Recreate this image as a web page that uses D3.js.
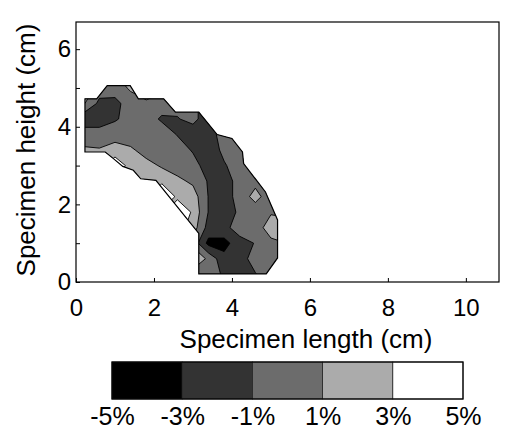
<!DOCTYPE html>
<html>
<head>
<meta charset="utf-8">
<script src="https://cdn.jsdelivr.net/npm/d3@7"></script>
<style>
body { margin: 0; background: #fff; }
svg { display: block; font-family: "Liberation Sans", Arial, sans-serif; }
</style>
</head>
<body>
<svg width="515" height="439"></svg>
<script>
var width = 515, height = 439;
var margin = {top: 22, right: 16, bottom: 157, left: 76};

// measurement grid (cm); rows go from the top of the specimen down
var gridX = [0.2, 0.6, 1.0, 1.4, 1.8, 2.2, 2.6, 3.0, 3.4, 3.8, 4.2, 4.6, 5.0, 5.4];
var gridY = [5.4, 5.0, 4.6, 4.2, 3.8, 3.4, 3.0, 2.6, 2.2, 1.8, 1.4, 1.0, 0.6, 0.2];

// strain (%), one row per gridY
var strain = [
    [3, 0, 1, 1.5, 2, 1.5, 0, 0, 0, 0, 0, 0, 0, 0],
    [3, 0, 0.3, 1.2, 2, 1.5, 0, 0, 0, 0, 0, 0, 0, 0],
    [1.2, -1.5, -1.8, 0.3, 0.7, 0, -0.5, -0.5, -2, 0, 0, 0, 0, 0],
    [-2.5, -2.5, -1.3, 0, 0, -1.3, -1.1, -0.5, -2, -0.5, 0, 0, 0, 0],
    [0.3, 0.3, 0.6, 0, 0, 0.2, -1.1, -2, -2, 0, 0, 0, 0, 0],
    [1.2, 1.1, 1.4, 1.3, 0.3, 0, 0, -1.2, -2.2, -0.5, 0, 0, 0, 0],
    [1.8, 1.8, 5, 2, 1.6, 0.8, 0, -0.2, -2, -1.2, 0, 0, 0, 0],
    [2, 2, 2, 2, 2, 2.2, 1.5, 0.6, -1.2, -2.2, 0, 0.5, 0, 0],
    [2, 2, 2, 2, 2, 7, 2.25, 2, -1.1, -2.2, 0, 1.6, 0, 0],
    [2, 2, 2, 2, 2, 2, 6, 2.5, -1.1, -2.5, -0.5, 0, 0.8, 0.5],
    [2, 2, 2, 2, 2, 2, 4, 2, -1.8, -1.6, 0, 0, 2, 2],
    [0, 0, 0, 0, 0, 0, 0, 0.3, -3.6, -3.7, -1.8, -0.9, 0.5, 1],
    [0, 0, 0, 0, 0, 0, 0, 3, 0.5, -2.4, -1.8, -0.2, 0, 0],
    [0, 0, 0, 0, 0, 0, 0, 0, 0, -1.3, -2, -1.1, 0, 0]
];

// specimen boundary (cm)
var outline = [[0.23, 3.35], [0.23, 4.72], [0.53, 4.72], [0.8, 5.06], [1.39, 5.06], [1.6, 4.72],
    [2.25, 4.72], [2.55, 4.38], [3.15, 4.38], [3.62, 3.8], [4.0, 3.7], [4.27, 3.35], [4.3, 3.05],
    [4.86, 2.32], [5.17, 1.6], [5.17, 0.62], [4.88, 0.21], [3.15, 0.21], [3.15, 1.25], [2.05, 2.62],
    [1.66, 2.66], [1.47, 2.88], [1.2, 2.98], [0.96, 3.18], [0.75, 3.35]];

var levels = [-5, -3, -1, 1, 3];
var levelColors = ["#000000", "#333333", "#6c6c6c", "#ababab", "#ffffff"];
var barEdges = [-5, -3, -1, 1, 3, 5];
var xTicks = [0, 2, 4, 6, 8, 10];
var yTicks = [0, 1, 2, 3, 4, 5, 6];

var svg = d3.select("svg");

var x = d3.scaleLinear()
    .domain([0, 10.85])
    .range([margin.left, width - margin.right]);
var y = d3.scaleLinear()
    .domain([0, 6.7])
    .range([height - margin.bottom, margin.top]);

var line = d3.line()
    .x(function(d) { return x(d[0]); })
    .y(function(d) { return y(d[1]); })
    .curve(d3.curveLinearClosed);

svg.append("clipPath").attr("id", "spec")
    .append("path").attr("d", line(outline));

// contour bands
var nx = gridX.length, ny = gridY.length;
var values = [].concat.apply([], strain);
var bands = d3.contours().size([nx, ny]).thresholds(levels)(values);
var stepX = gridX[1] - gridX[0], stepY = gridY[1] - gridY[0];
var toPlot = d3.geoTransform({
    point: function(gx, gy) {
        this.stream.point(x(gridX[0] + (gx - 0.5) * stepX), y(gridY[0] + (gy - 0.5) * stepY));
    }
});
var path = d3.geoPath(toPlot);

svg.append("g")
    .attr("clip-path", "url(#spec)")
    .selectAll("path")
    .data(bands)
    .join("path")
    .attr("d", path)
    .attr("fill", function(d, i) { return levelColors[i]; })
    .attr("stroke", "#000")
    .attr("stroke-width", 0.9)
    .attr("stroke-linejoin", "round");

svg.append("path")
    .attr("d", line(outline))
    .attr("fill", "none")
    .attr("stroke", "#000")
    .attr("stroke-width", 1.2);

// frame
svg.append("rect")
    .attr("x", x(0))
    .attr("y", y(6.7))
    .attr("width", x(10.85) - x(0))
    .attr("height", y(0) - y(6.7))
    .attr("fill", "none")
    .attr("stroke", "#000")
    .attr("stroke-width", 1.2);

var gx = svg.append("g")
    .attr("transform", "translate(0," + y(0) + ")")
    .call(d3.axisBottom(x).tickValues(xTicks).tickSize(-4).tickPadding(17));
var gy = svg.append("g")
    .attr("transform", "translate(" + x(0) + ",0)")
    .call(d3.axisLeft(y).tickValues(yTicks).tickSize(-4).tickPadding(5)
        .tickFormat(function(d) { return d % 2 ? "" : d; }));

[gx, gy].forEach(function(g) {
    g.select(".domain").remove();
    g.attr("font-family", null).attr("font-size", 24);
    g.selectAll("line").attr("stroke", "#000");
    g.selectAll("text").attr("fill", "#000");
});

svg.append("text")
    .attr("x", 306)
    .attr("y", 348)
    .attr("text-anchor", "middle")
    .attr("font-size", 26)
    .text("Specimen length (cm)");

svg.append("text")
    .attr("transform", "translate(35,150) rotate(-90)")
    .attr("text-anchor", "middle")
    .attr("font-size", 26)
    .text("Specimen height (cm)");

// colour bar
var cb = d3.scaleLinear().domain([-5, 5]).range([112, 463]);
var barTop = 362, barH = 37;

svg.append("g").selectAll("rect")
    .data(levelColors)
    .join("rect")
    .attr("x", function(d, i) { return cb(barEdges[i]); })
    .attr("y", barTop)
    .attr("width", function(d, i) { return cb(barEdges[i + 1]) - cb(barEdges[i]); })
    .attr("height", barH)
    .attr("fill", function(d) { return d; })
    .attr("stroke", "#222")
    .attr("stroke-width", 0.8);

svg.append("rect")
    .attr("x", cb(-5)).attr("y", barTop)
    .attr("width", cb(5) - cb(-5)).attr("height", barH)
    .attr("fill", "none").attr("stroke", "#000").attr("stroke-width", 1.2);

var gc = svg.append("g")
    .attr("transform", "translate(0," + (barTop + barH) + ")")
    .call(d3.axisBottom(cb).tickValues(barEdges).tickSize(0).tickPadding(8)
        .tickFormat(function(d) { return d + "%"; }));
gc.select(".domain").remove();
gc.attr("font-family", null).attr("font-size", 25);
gc.selectAll("text").attr("fill", "#000");
</script>
</body>
</html>
